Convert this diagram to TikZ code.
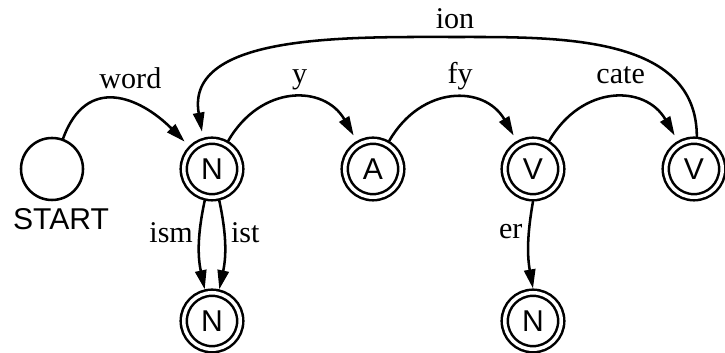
\documentclass[tikz,border=0pt]{standalone}
\usepackage{fontspec}
\setmainfont{Liberation Serif}
\setsansfont{Liberation Sans}
\usetikzlibrary{arrows.meta}
\tikzset{
    every picture/.style={line cap=round,line join=round},
    fsnode/.style={draw,circle,line width=0.9pt,minimum size=0.775cm,inner sep=0pt,
      font=\fontsize{10.7}{12.8}\selectfont\sffamily},
    finalnode/.style={fsnode,double,double distance=1.25pt,minimum size=0.706cm,
      outer sep=1.5pt},
    transarrow/.style={-{Triangle[length=6.8pt,width=4pt]},line width=0.9pt},
    arcarrow/.style={transarrow,shorten >=2.2pt},
    edgelabel/.style={inner sep=0pt,text depth=0pt,text height=1.5ex},
}
\begin{document}
\begin{tikzpicture}[x=0.0125cm,y=-0.0125cm,font=\fontsize{10.7}{12.8}\selectfont]
  \useasboundingbox (0,0) rectangle (725,353);
  \node[fsnode] (start) at (52,169) {};
  \node[font=\fontsize{10.7}{12.8}\selectfont\sffamily] (startlabel) at (61,219) {START};
  \node[finalnode] (n1) at (212,169) {N};
  \node[finalnode] (a) at (373,169) {A};
  \node[finalnode] (v1) at (533,169) {V};
  \node[finalnode] (v2) at (694,169) {V};
  \node[finalnode] (n2) at (212,321) {N};
  \node[finalnode] (n3) at (533,321) {N};
  \coordinate (iontop) at (455,37);
  \draw[arcarrow] (start.70) to[out=70,in=135,looseness=1.4]
    node[edgelabel,above=5pt,pos=0.6] {word} (n1.135);
  \draw[arcarrow] (n1.60) to[out=60,in=120,looseness=1.3]
    node[edgelabel,above=5pt,pos=0.55] {y} (a.120);
  \draw[arcarrow] (a.60) to[out=60,in=120,looseness=1.3]
    node[edgelabel,above=5pt,pos=0.55] {fy} (v1.120);
  \draw[arcarrow] (v1.60) to[out=60,in=120,looseness=1.3]
    node[edgelabel,above=5pt,pos=0.55] {cate} (v2.120);
  \draw[arcarrow] (v2.85) to[out=90,in=0] (iontop)
    node[edgelabel,above=2.5pt] {ion} to[out=180,in=100] (n1.106);
  \draw[transarrow] (n1.-103) to[bend right=12]
    node[edgelabel,left=2pt,pos=0.35] {ism} (n2.103);
  \draw[transarrow] (n1.-77) to[bend left=12]
    node[edgelabel,right=2pt,pos=0.35] {ist} (n2.77);
  \draw[transarrow] (v1.-90) to[bend right=10]
    node[edgelabel,left=2pt,pos=0.3] {er} (n3.90);
\end{tikzpicture}
\end{document}
